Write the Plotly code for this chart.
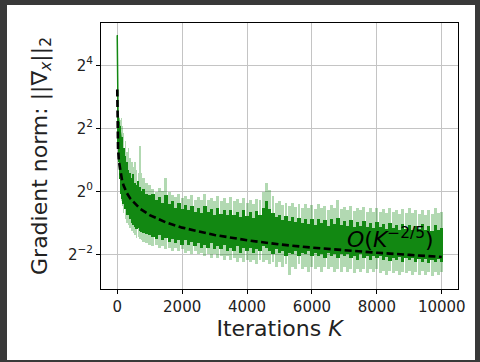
import plotly.graph_objects as go
import math

# ---- data ----
iters_early = [0, 10, 25, 50, 75, 100, 130, 160, 200, 250, 300, 350, 400, 450,
               500, 550, 600, 650, 700, 750, 800, 900, 1000]
iters_late = list(range(1100, 10001, 100))
iters = iters_early + iters_late

light_hi = [31, 9, 6.5, 5.2, 5.0, 4.8, 5.0, 4.2, 3.6, 3.0, 2.4, 2.6, 2.1, 1.9,
            1.7, 1.9, 1.6, 1.5, 2.7, 1.5, 1.35, 1.2, 1.15,
            1.05, 0.98, 1.08, 1.00, 1.34, 0.98, 0.92, 0.88, 0.95, 0.86,
            0.90, 0.84, 0.92, 0.83, 0.88, 0.82, 0.94, 0.83, 0.87, 0.80,
            0.90, 0.81, 0.86, 0.78, 0.88, 0.80, 0.84, 0.77, 0.86, 0.78,
            0.83, 0.76, 0.85, 0.82, 0.98, 1.20, 1.02, 0.90, 0.78, 0.80,
            0.74, 0.78, 0.72, 0.77, 0.71, 0.76, 0.70, 0.75, 0.69, 0.74,
            0.68, 0.75, 0.70, 0.73, 0.67, 0.74, 0.70, 0.82, 0.68, 0.71,
            0.66, 0.72, 0.65, 0.70, 0.66, 0.71, 0.64, 0.69, 0.63, 0.70,
            0.64, 0.68, 0.62, 0.69, 0.63, 0.67, 0.61, 0.68, 0.62, 0.69,
            0.62, 0.66, 0.61, 0.67, 0.60, 0.66, 0.61, 0.70, 0.62, 0.64]

dark_hi = [31, 7.5, 5.5, 4.6, 4.2, 3.6, 3.0, 3.3, 2.6, 2.2, 1.9, 1.6, 1.5, 1.35,
           1.45, 1.2, 1.15, 1.25, 1.1, 1.0, 1.05, 0.95, 0.92,
           0.95, 0.82, 0.88, 0.78, 0.92, 0.76, 0.80, 0.70, 0.77, 0.68,
           0.74, 0.66, 0.72, 0.64, 0.70, 0.62, 0.73, 0.63, 0.68, 0.60,
           0.70, 0.61, 0.66, 0.59, 0.67, 0.60, 0.64, 0.57, 0.66, 0.58,
           0.63, 0.56, 0.65, 0.60, 0.70, 0.80, 0.68, 0.62, 0.57, 0.60,
           0.53, 0.58, 0.52, 0.57, 0.51, 0.56, 0.50, 0.55, 0.49, 0.54,
           0.48, 0.55, 0.50, 0.53, 0.47, 0.54, 0.49, 0.56, 0.48, 0.52,
           0.47, 0.53, 0.46, 0.51, 0.47, 0.52, 0.46, 0.50, 0.45, 0.51,
           0.46, 0.49, 0.44, 0.50, 0.45, 0.48, 0.43, 0.49, 0.44, 0.48,
           0.43, 0.47, 0.44, 0.49, 0.43, 0.47, 0.42, 0.48, 0.43, 0.45]

dark_lo = [20, 4.5, 2.6, 1.9, 1.6, 1.3, 0.95, 0.85, 0.75, 0.68, 0.6, 0.6, 0.55, 0.5,
           0.48, 0.46, 0.44, 0.45, 0.42, 0.41, 0.40, 0.39, 0.38,
           0.37, 0.35, 0.38, 0.34, 0.36, 0.33, 0.35, 0.32, 0.34, 0.31,
           0.34, 0.31, 0.33, 0.30, 0.32, 0.29, 0.31, 0.29, 0.32, 0.28,
           0.30, 0.28, 0.31, 0.27, 0.29, 0.27, 0.30, 0.26, 0.29, 0.27,
           0.29, 0.26, 0.28, 0.27, 0.30, 0.29, 0.27, 0.25, 0.28, 0.26,
           0.27, 0.24, 0.26, 0.25, 0.27, 0.24, 0.26, 0.25, 0.27, 0.24,
           0.26, 0.24, 0.25, 0.23, 0.26, 0.24, 0.25, 0.23, 0.25, 0.24,
           0.25, 0.23, 0.24, 0.22, 0.25, 0.23, 0.24, 0.22, 0.24, 0.23,
           0.24, 0.22, 0.235, 0.215, 0.23, 0.22, 0.235, 0.21, 0.23, 0.22,
           0.23, 0.21, 0.225, 0.21, 0.225, 0.205, 0.22, 0.21, 0.225, 0.21]

light_lo = [18, 4, 2.3, 1.6, 1.35, 1.1, 0.8, 0.72, 0.62, 0.55, 0.5, 0.48, 0.45, 0.42,
            0.40, 0.38, 0.36, 0.37, 0.35, 0.34, 0.33, 0.32, 0.31,
            0.30, 0.31, 0.29, 0.30, 0.28, 0.29, 0.27, 0.29, 0.27, 0.28,
            0.26, 0.27, 0.25, 0.27, 0.25, 0.26, 0.24, 0.25, 0.23, 0.25,
            0.23, 0.24, 0.22, 0.24, 0.22, 0.23, 0.21, 0.23, 0.21, 0.22,
            0.21, 0.22, 0.20, 0.22, 0.21, 0.22, 0.20, 0.21, 0.19, 0.21,
            0.19, 0.20, 0.16, 0.19, 0.18, 0.20, 0.18, 0.19, 0.17, 0.19,
            0.18, 0.19, 0.17, 0.19, 0.18, 0.19, 0.17, 0.18, 0.17, 0.19,
            0.17, 0.18, 0.165, 0.18, 0.17, 0.18, 0.165, 0.18, 0.17, 0.18,
            0.165, 0.175, 0.16, 0.175, 0.165, 0.175, 0.16, 0.17, 0.165, 0.175,
            0.16, 0.17, 0.16, 0.175, 0.16, 0.17, 0.155, 0.17, 0.16, 0.17]

# O(K^-2/5) reference curve, sampled
ref_iters = [1, 5, 10, 25, 50, 100, 150, 200, 300, 400, 700, 1000, 1500, 2000,
             3000, 4000, 5000, 6000, 7000, 8000, 9000, 10000]
ref_vals = [9.4, 4.94, 3.74, 2.59, 1.965, 1.49, 1.267, 1.13, 0.959, 0.855, 0.684,
            0.593, 0.505, 0.450, 0.383, 0.341, 0.311, 0.290, 0.272, 0.259, 0.247, 0.236]

x_ticks = [0, 2000, 4000, 6000, 8000, 10000]
x_ticktext = ["0", "2000", "4000", "6000", "8000", "10000"]
y_ticks = [0.25, 1, 4, 16]
y_ticktext = ["2<sup>−2</sup>", "2<sup>0</sup>", "2<sup>2</sup>", "2<sup>4</sup>"]

FONT = "DejaVu Sans"
W, H = 480, 362
ML, MR, MT, MB = 101, 22, 23, 73
PW, PH = W - ML - MR, H - MT - MB

# bar widths follow the sample spacing
gaps = [iters[i + 1] - iters[i] for i in range(len(iters) - 1)] + [100]
light_w = [g * 0.9 for g in gaps]
dark_w = [g * 1.02 for g in gaps]

fig = go.Figure()

fig.add_trace(go.Bar(
    x=iters, base=light_lo, y=[h - l for h, l in zip(light_hi, light_lo)],
    width=light_w, marker=dict(color="rgba(0,128,0,0.3)", line=dict(width=0)),
    hoverinfo="skip", showlegend=False))

fig.add_trace(go.Bar(
    x=iters, base=dark_lo, y=[h - l for h, l in zip(dark_hi, dark_lo)],
    width=dark_w, marker=dict(color="#128812", line=dict(width=0)),
    hoverinfo="skip", showlegend=False))

# thin initial spike of the mean curve
fig.add_trace(go.Scatter(
    x=iters[:8], y=dark_hi[:8], mode="lines",
    line=dict(color="#128812", width=1.5), hoverinfo="skip", showlegend=False))

fig.add_trace(go.Scatter(
    x=ref_iters, y=ref_vals, mode="lines",
    line=dict(color="black", width=2.6, dash="7px,3.5px"),
    showlegend=False))

fig.add_annotation(
    x=8420, y=math.log10(0.362), xref="x", yref="y",
    text="<i>O</i>(<i>K</i><sup>−2/5</sup>)", showarrow=False,
    font=dict(family=FONT, size=22, color="black"))

axis_common = dict(
    showline=True, mirror=True, linecolor="black", linewidth=1,
    ticks="outside", ticklen=4, tickcolor="black", tickwidth=1,
    showgrid=True, gridcolor="#c4c4c4", gridwidth=1, zeroline=False,
    automargin=False, tickfont=dict(family=FONT, size=15, color="#222"))

fig.update_xaxes(
    range=[-500, 10500], tickvals=x_ticks, ticktext=x_ticktext, **axis_common,
    title=dict(text="Iterations <i>K</i>", font=dict(family=FONT, size=22, color="#222"),
               standoff=5))

fig.update_yaxes(
    type="log", range=[math.log10(2 ** -3.10), math.log10(2 ** 5.343)],
    tickvals=y_ticks, ticktext=y_ticktext, **axis_common,
    title=dict(text="Gradient norm: ||∇<sub><i>x</i></sub>||<sub>2</sub>",
               font=dict(family=FONT, size=22, color="#222"), standoff=14))

# dark frame around the figure
FR = "#393939"
def frame(x0px, x1px, y0px, y1px):
    fig.add_shape(type="rect", xref="paper", yref="paper",
                  x0=(x0px - ML) / PW, x1=(x1px - ML) / PW,
                  y0=1 - (y1px - MT) / PH, y1=1 - (y0px - MT) / PH,
                  fillcolor=FR, line=dict(width=0), layer="below")

frame(0, W, 0, 5)        # top
frame(0, 7, 0, H)        # left
frame(475, W, 0, H)      # right
frame(0, W, 360, H)      # bottom

fig.update_layout(
    template="none",
    width=W, height=H,
    margin=dict(l=ML, r=MR, t=MT, b=MB, pad=0),
    paper_bgcolor="white", plot_bgcolor="white",
    barmode="overlay", bargap=0,
    showlegend=False,
    font=dict(family=FONT))

fig.write_html("out.html",
               config={"displayModeBar": False},
               post_script="document.body.style.margin='0';"
                           "document.body.style.overflow='hidden';")
